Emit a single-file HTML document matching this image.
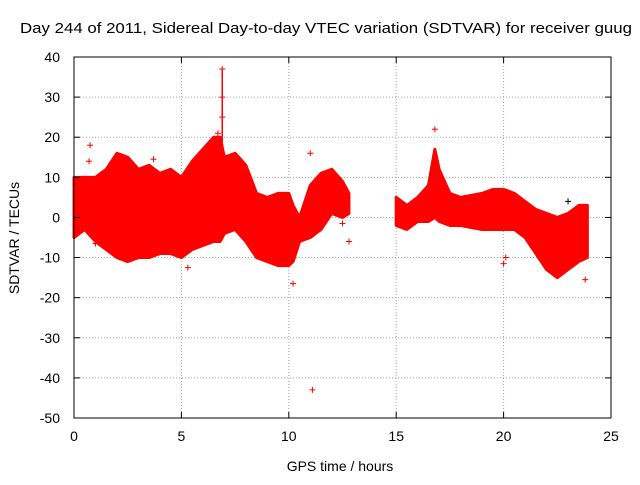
<!DOCTYPE html>
<html><head><meta charset="utf-8"><style>
body{margin:0;background:#fff}
svg text{font-family:"Liberation Sans",sans-serif;font-size:14px;fill:#000}
</style></head><body>
<svg id="chart" width="640" height="480" viewBox="0 0 640 480">
<text x="20" y="33" textLength="612" lengthAdjust="spacingAndGlyphs" style="font-size:15px">Day 244 of 2011, Sidereal Day-to-day VTEC variation (SDTVAR) for receiver guug</text>
<text x="340" y="471" text-anchor="middle">GPS time / hours</text>
<text transform="translate(19,238) rotate(-90)" text-anchor="middle">SDTVAR / TECUs</text>
<g id="grid"></g><g id="data"></g><g id="axes"></g>
</svg>
<script>
const xTicks=[0,5,10,15,20,25];
const yTicks=[40,30,20,10,0,-10,-20,-30,-40,-50];
const seg1Time=[0,0.5,1,1.5,2,2.5,3,3.5,4,4.5,5,5.5,6,6.5,6.8,7,7.5,8,8.5,9,9.5,10,10.2,10.5,11,11.5,12,12.5,12.8];
const seg1Upper=[10,10,10,12,16,15,12,13,11,12,10,14,17,20,20,15,16,13,6,5,6,6,3,0,8,11,12,9,6];
const seg1Lower=[-5,-3,-6,-8,-10,-11,-10,-10,-9,-9,-10,-8,-7,-6,-6,-4,-3,-6,-10,-11,-12,-12,-11,-6,-5,-3,1,0,1];
const seg2Time=[15,15.5,16,16.5,16.8,17,17.5,18,19,19.5,20,20.5,21,21.5,22,22.5,23,23.5,23.9];
const seg2Upper=[5,3,5,8,17,12,6,5,6,7,7,6,4,2,1,0,1,3,3];
const seg2Lower=[-2,-3,-1,-1,0,-1,-2,-2,-3,-3,-3,-3,-5,-9,-13,-15,-13,-11,-10];
const outlierTime=[0.75,6.9,6.7,10.2,11.1,5.3,12.8,16.8,20,23.8,1,3.7,11,12.5,0.7,20.1,6.9,6.9];
const outlierValue=[18,37,21,-16.5,-43,-12.5,-6,22,-11.5,-15.5,-6.5,14.5,16,-1.5,14,-10,30,25];
const X0=74,X1=611,Y0=418,Y1=57;
const xs=v=>X0+(v-0)/25*(X1-X0);
const ys=v=>Y0-(v+50)/90*(Y0-Y1);
const NS='http://www.w3.org/2000/svg';
function mk(t,a,p){const e=document.createElementNS(NS,t);for(const k in a)e.setAttribute(k,a[k]);p.appendChild(e);return e;}
const grid=document.getElementById('grid'),axes=document.getElementById('axes'),data=document.getElementById('data');
xTicks.forEach(t=>{
 if(t>0&&t<25){const g=mk('line',{x1:xs(t),x2:xs(t),y1:Y0,y2:Y1,stroke:'#a0a0a0','stroke-dasharray':'1,2'},grid);
 
 }
 const l=mk('text',{x:xs(t),y:Y0+23,'text-anchor':'middle'},axes);l.textContent=t;
 
 
 mk('line',{x1:xs(t),x2:xs(t),y1:Y0,y2:Y0-6,stroke:'#000'},axes);
 mk('line',{x1:xs(t),x2:xs(t),y1:Y1,y2:Y1+6,stroke:'#000'},axes);
});
yTicks.forEach(t=>{
 if(t>-50&&t<40){const g=mk('line',{x1:X0,x2:X1,y1:ys(t),y2:ys(t),stroke:'#a0a0a0','stroke-dasharray':'1,2'},grid);
 
 }
 const l=mk('text',{x:X0-14,y:ys(t)+5,'text-anchor':'end'},axes);l.textContent=t;
 
 
 mk('line',{x1:X0,x2:X0+6,y1:ys(t),y2:ys(t),stroke:'#000'},axes);
 mk('line',{x1:X1,x2:X1-6,y1:ys(t),y2:ys(t),stroke:'#000'},axes);
});
const box=mk('rect',{x:X0,y:Y1,width:X1-X0,height:Y0-Y1,fill:'none',stroke:'#000'},axes);


function band(T,U,L,name){
 let pts=T.map((t,i)=>xs(t)+','+ys(U[i]));
 for(let i=T.length-1;i>=0;i--)pts.push(xs(T[i])+','+ys(L[i]));
 const p=mk('polygon',{points:pts.join(' '),fill:'#ff0000',stroke:'#ff0000','stroke-width':3,'stroke-linejoin':'round'},data);
 
 
}
band(seg1Time,seg1Upper,seg1Lower,'sdtvar-band-early');
band(seg2Time,seg2Upper,seg2Lower,'sdtvar-band-late');
const sp=mk('line',{x1:xs(6.9),x2:xs(6.9),y1:ys(8),y2:ys(37),stroke:'#ff0000','stroke-width':1.5},data);


outlierTime.forEach((t,i)=>{
 const x=xs(t),y=ys(outlierValue[i]);
 const g=mk('path',{d:`M${x-3},${y}H${x+3}M${x},${y-3}V${y+3}`,stroke:'#ff0000','stroke-width':1},data);
 
 
});
const bx=xs(23),by=ys(4);
const bp=mk('path',{d:`M${bx-3},${by}H${bx+3}M${bx},${by-3}V${by+3}`,stroke:'#000'},data);


</script>
</body></html>
